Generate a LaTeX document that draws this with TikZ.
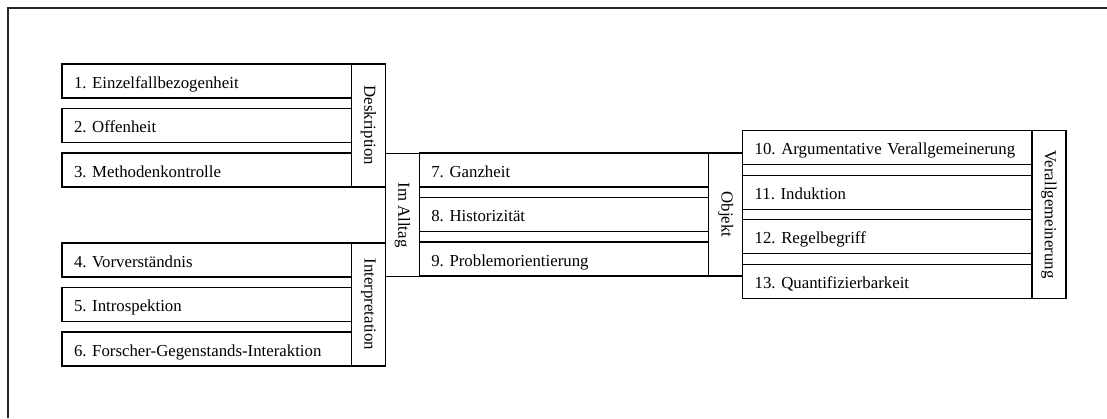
\documentclass[tikz,border=0pt]{standalone}
\usepackage{fontspec}
\setmainfont{Liberation Serif}
\usetikzlibrary{positioning,calc}
\frenchspacing

\begin{document}
\begin{tikzpicture}[
 font=\fontsize{12.6}{15}\selectfont, node distance=7.875pt,
 itembox/.style={rectangle, draw, line width=1pt, outer sep=0pt,
  minimum height=25.5pt, text width=199pt, inner xsep=9pt, inner ysep=0pt,
  text height=11.5pt, text depth=1pt, align=left, anchor=north west},
 sidebox/.style={rectangle, draw, line width=1pt, outer sep=0pt, rotate=-90,
  minimum height=25.5pt, inner sep=0pt, anchor=south},
 frame/.style={line width=0.8pt, black!85},
]
\useasboundingbox (0,0) rectangle (830.25pt,-313.5pt);
\draw[frame] (6pt,-313.5pt) -- (6pt,-6pt) -- (830.25pt,-6pt);

% Deskription
\node[itembox] (krit1) at (46.5pt,-48pt) {1. Einzelfallbezogenheit};
\node[itembox, below=of krit1] (krit2) {2. Offenheit};
\node[itembox, below=of krit2] (krit3) {3. Methodenkontrolle};
\node[sidebox, minimum width=92.25pt] (deskr) at ($(krit1.north east)!.5!(krit3.south east)$) {Deskription};

% Interpretation
\node[itembox, below=42pt of krit3] (krit4) {4. Vorverständnis};
\node[itembox, below=of krit4] (krit5) {5. Introspektion};
\node[itembox, below=of krit5] (krit6) {6. Forscher-Gegenstands-Interaktion};
\node[sidebox, minimum width=92.25pt] (interp) at ($(krit4.north east)!.5!(krit6.south east)$) {Interpretation};

% Im Alltag
\coordinate (mitte) at ($(krit3.north east)!.5!(krit4.south east)$);
\node[sidebox, minimum width=92.25pt] (alltag) at (mitte -| deskr.north) {Im Alltag};

% Objekt
\node[itembox] (krit7) at (krit3.north -| alltag.north) {7. Ganzheit};
\node[itembox, below=of krit7] (krit8) {8. Historizität};
\node[itembox, below=of krit8] (krit9) {9. Problemorientierung};
\node[sidebox, minimum width=92.25pt] (objekt) at ($(krit7.north east)!.5!(krit9.south east)$) {Objekt};

% Verallgemeinerung
\node[itembox] (krit10) at ([yshift=62.8125pt]objekt.north) {10. Argumentative Verallgemeinerung};
\node[itembox, below=of krit10] (krit11) {11. Induktion};
\node[itembox, below=of krit11] (krit12) {12. Regelbegriff};
\node[itembox, below=of krit12] (krit13) {13. Quantifizierbarkeit};
\node[sidebox, minimum width=125.625pt] (verallg) at ($(krit10.north east)!.5!(krit13.south east)$) {Verallgemeinerung};
\end{tikzpicture}
\end{document}
